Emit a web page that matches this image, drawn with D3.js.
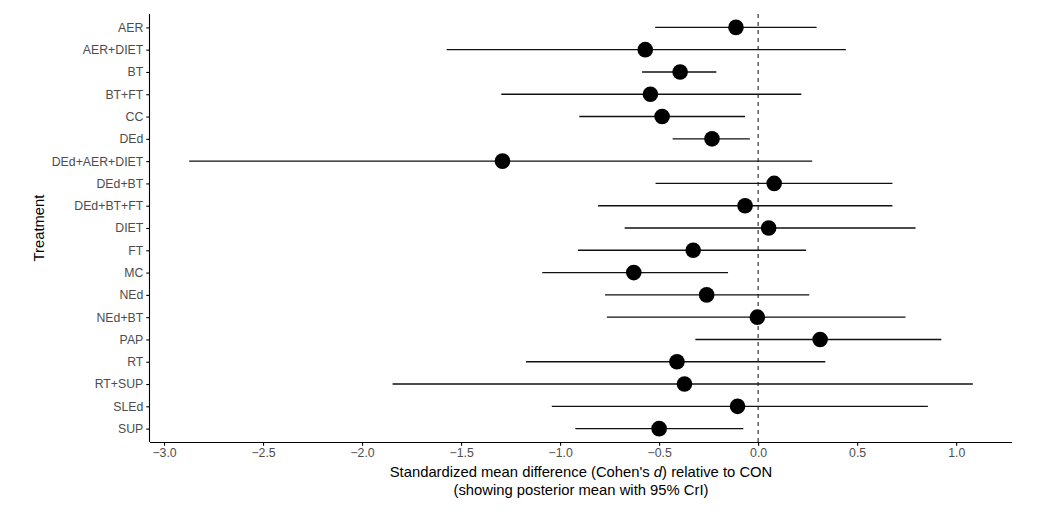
<!DOCTYPE html>
<html><head><meta charset="utf-8">
<script src="https://cdn.jsdelivr.net/npm/d3@7"></script>
<style>
body{margin:0;background:#fff;}
text{font-family:"Liberation Sans",Arial,Helvetica,sans-serif;}
</style></head>
<body><svg id="chart" width="1044" height="514"></svg>
<script>
const treatments = ["AER","AER+DIET","BT","BT+FT","CC","DEd","DEd+AER+DIET","DEd+BT","DEd+BT+FT","DIET","FT","MC","NEd","NEd+BT","PAP","RT","RT+SUP","SLEd","SUP"];
const means = [-0.112,-0.570,-0.394,-0.544,-0.485,-0.233,-1.291,0.081,-0.066,0.053,-0.328,-0.628,-0.260,-0.004,0.313,-0.410,-0.372,-0.104,-0.500];
const lower = [-0.520,-1.573,-0.586,-1.297,-0.903,-0.432,-2.873,-0.518,-0.808,-0.674,-0.910,-1.090,-0.773,-0.764,-0.317,-1.172,-1.846,-1.042,-0.923];
const upper = [0.295,0.443,-0.211,0.218,-0.066,-0.042,0.273,0.678,0.678,0.795,0.242,-0.152,0.258,0.744,0.925,0.339,1.084,0.857,-0.075];
const xTicks = [-3.0,-2.5,-2.0,-1.5,-1.0,-0.5,0.0,0.5,1.0];

const svg = d3.select("#chart");
const L = 150, R = 1012, T = 14, B = 442;
const lo = d3.min(lower), hi = d3.max(upper), pad = (hi - lo) * 0.05;
const x = d3.scaleLinear().domain([lo - pad, hi + pad]).range([L, R]);
const n = treatments.length;
const step = (B - T) / (n - 1 + 1.2);
const y = d3.scalePoint().domain(treatments).range([T + 0.6 * step, B - 0.6 * step]);

// reference line
svg.append("line").attr("x1", x(0)).attr("x2", x(0)).attr("y1", T).attr("y2", B)
  .attr("stroke", "#333").attr("stroke-width", 1.2).attr("stroke-dasharray", "4,4");

const data = treatments.map((t, i) => ({t, m: means[i], l: lower[i], u: upper[i]}));
svg.append("g").selectAll("line").data(data).join("line")
  .attr("x1", d => x(d.l)).attr("x2", d => x(d.u))
  .attr("y1", d => y(d.t)).attr("y2", d => y(d.t))
  .attr("stroke", "#111").attr("stroke-width", 1.4);
svg.append("g").selectAll("circle").data(data).join("circle")
  .attr("cx", d => x(d.m)).attr("cy", d => y(d.t)).attr("r", 7.8).attr("fill", "#000");

// axes
const xAxis = svg.append("g").attr("transform", `translate(0,${B})`)
  .call(d3.axisBottom(x).tickValues(xTicks).tickSize(3.7).tickPadding(3)
    .tickFormat(d => d3.format(".1f")(d).replace("-", "\u2212")));
const yAxis = svg.append("g").attr("transform", `translate(${L},0)`)
  .call(d3.axisLeft(y).tickSize(3.7).tickPadding(3));
[xAxis, yAxis].forEach(a => {
  a.select(".domain").attr("stroke", "#000").attr("stroke-width", 1.1);
  a.selectAll(".tick line").attr("stroke", "#000").attr("stroke-width", 1.1);
  a.selectAll(".tick text").attr("fill", "#4d4d4d").style("font-size", "12.3px")
    .style("font-family", "'Liberation Sans',Arial,sans-serif");
});
xAxis.select(".domain").attr("d", `M${L},0.5H${R}`);
yAxis.select(".domain").attr("d", `M-0.5,${T}V${B}`);

// titles
const cx = (L + R) / 2;
const t1 = svg.append("text").attr("x", cx).attr("y", 477).attr("text-anchor", "middle")
  .style("font-size", "14.8px").attr("fill", "#000");
t1.append("tspan").text("Standardized mean difference (Cohen's ");
t1.append("tspan").style("font-style", "italic").text("d");
t1.append("tspan").text(") relative to CON");
svg.append("text").attr("x", cx).attr("y", 495).attr("text-anchor", "middle")
  .style("font-size", "14.8px").attr("fill", "#000").text("(showing posterior mean with 95% CrI)");
svg.append("text").attr("transform", `translate(44,${(T + B) / 2}) rotate(-90)`)
  .attr("text-anchor", "middle").style("font-size", "14.8px").attr("fill", "#000").text("Treatment");
</script></body></html>
